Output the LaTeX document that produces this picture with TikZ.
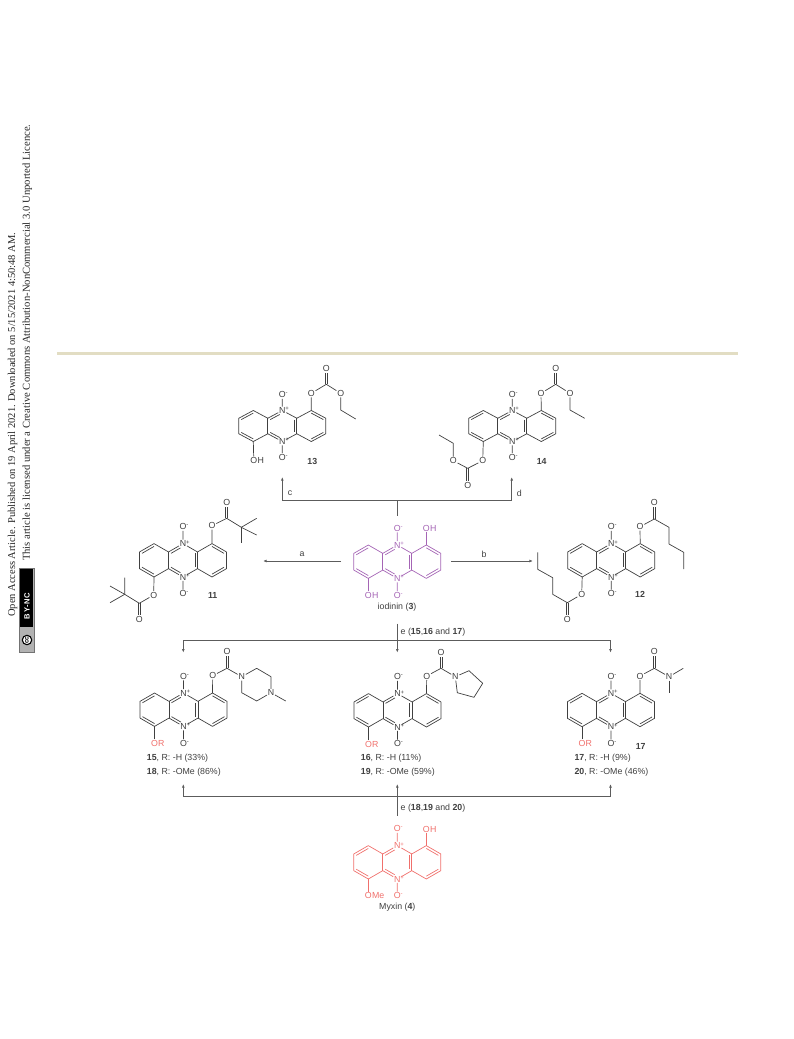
\documentclass[tikz,border=0pt]{standalone}
\usepackage{fontspec}
\setmainfont{Liberation Sans}
\newfontfamily\headfont{Liberation Serif}
\usetikzlibrary{arrows.meta,calc}

\definecolor{bondgray}{HTML}{404040}
\definecolor{arrowgray}{HTML}{5C5C5C}
\definecolor{iodpurple}{HTML}{A565B5}
\definecolor{myxred}{HTML}{F0706C}
\definecolor{rulebeige}{HTML}{E2DDC3}

\newcommand{\Nplus}{N\smash{\rlap{\raisebox{2.6pt}{\fontsize{6}{6}\selectfont +}}}}
\newcommand{\Ominus}{O\smash{\rlap{\raisebox{3pt}{\fontsize{6}{6}\selectfont -}}}}

\tikzset{
	bond/.style={line width=.7pt,line join=round},
	atom/.style={inner sep=.7pt,font=\fontsize{8.8}{9}\selectfont},
	tail/.style={inner sep=0pt,anchor=west,xshift=-.8pt,font=\fontsize{8.8}{9}\selectfont},
	lab/.style={inner sep=0pt,font=\fontsize{8.8}{10}\selectfont,text=bondgray},
	cpd/.style={inner sep=0pt,font=\fontsize{8.8}{10}\selectfont\bfseries,text=bondgray},
	reag/.style={inner sep=0pt,font=\fontsize{8.8}{10}\selectfont,text=bondgray},
	flow/.style={line width=.85pt,draw=arrowgray},
	flowto/.style={flow,-{Latex[length=3.6pt,width=2.8pt]}},
}

% upright C=O: 1 carbon, 2 oxygen
\newcommand{\carbonyl}[2]{%
	\draw[bond,shorten >=4.6pt] ([xshift=-1.1pt]#1.center) -- ([xshift=-1.1pt]#2.center);
	\draw[bond,shorten >=4.6pt] ([xshift=1.1pt]#1.center) -- ([xshift=1.1pt]#2.center);
}

% core: 1 name, 2 x, 3 y, 4 yscale, 5 colour
\newcommand{\phenazine}[5]{%
	\begin{scope}[shift={(#2,#3)},yscale=#4,color=#5]
		\foreach \n/\px/\py in {Ra/29/-16.7,Rb/43.5/-8.35,Rc/43.5/8.35,Rd/29/16.7,
			Ja/14.5/-8.35,Jb/14.5/8.35,Ka/-14.5/-8.35,Kb/-14.5/8.35,
			La/-29/-16.7,Lb/-43.5/-8.35,Lc/-43.5/8.35,Ld/-29/16.7,
			Cr/29/0,Cm/0/0,Cl/-29/0}
			\coordinate (#1\n) at (\px,\py);
		\node[atom] (#1Na) at (0,-16.7) {\Nplus};
		\node[atom] (#1Nb) at (0,16.7) {\Nplus};
		\node[atom] (#1Oa) at (0,-33.4) {\Ominus};
		\node[atom] (#1Ob) at (0,33.4) {\Ominus};
		\draw[bond] (#1Oa) -- (#1Na) -- (#1Ja) -- (#1Ra) -- (#1Rb) -- (#1Rc) -- (#1Rd) -- (#1Jb) -- (#1Nb) -- (#1Ob);
		\draw[bond] (#1Na) -- (#1Ka) -- (#1La) -- (#1Lb) -- (#1Lc) -- (#1Ld) -- (#1Kb) -- (#1Nb);
		\draw[bond] (#1Ja) -- (#1Jb);
		\draw[bond] (#1Ka) -- (#1Kb);
		\foreach \u/\v/\c in {Ra/Rb/Cr,Rc/Rd/Cr,Ja/Jb/Cm,La/Lb/Cl,Lc/Ld/Cl}
			\draw[bond] ($(#1\u)!.17!(#1\c)$) -- ($(#1\v)!.17!(#1\c)$);
		\draw[bond,shorten >=3pt] ($(#1Ka)!.17!(#1Cm)$) -- ($(#1Na)!.17!(#1Cm)$);
		\draw[bond,shorten >=3pt] ($(#1Kb)!.17!(#1Cm)$) -- ($(#1Nb)!.17!(#1Cm)$);
	\end{scope}
}

\begin{document}
\begin{tikzpicture}[x=1pt,y=-1pt]
	\useasboundingbox (0,0) rectangle (793,1039);

	% journal strip
	\fill[rulebeige] (57,351.6) rectangle (738,354.6);
	\node[rotate=90,anchor=west,inner sep=0pt,font=\headfont\fontsize{10.5}{11}\selectfont,text=black!85] (line1) at (12.6,617) {Open Access Article. Published on 19 April 2021. Downloaded on 5/15/2021 4:50:48 AM.};
	\node[rotate=90,anchor=west,inner sep=0pt,font=\headfont\fontsize{10.62}{11}\selectfont,text=black!85] (line2) at (27.2,561) {This article is licensed under a Creative Commons Attribution-NonCommercial 3.0 Unported Licence.};
	\filldraw[draw=black!55,fill=black!30,line width=.9pt] (19.6,568) rectangle (34.2,652.5);
	\fill[black] (20.4,568.8) rectangle (33.4,627);
	\node[rotate=90,inner sep=0pt,font=\fontsize{7.6}{8}\selectfont\bfseries,text=white] (badge) at (27,606) {B\kern.8pt Y\kern.4pt -\kern.4pt N\kern.8pt C};
	\node[circle,draw=black,fill=white,line width=1.1pt,inner sep=.5pt,font=\fontsize{6.5}{7}\selectfont\bfseries,rotate=90] (cc) at (27,640) {cc};

	% iodinin
	\phenazine{I}{397.3}{561.7}{1}{iodpurple}
	\begin{scope}[color=iodpurple]
		\node[atom] (IO1) at (426.3,528.3) {O};
		\node[tail] at (IO1.east) {H};
		\node[atom] (IO2) at (368.3,595) {O};
		\node[tail] at (IO2.east) {H};
		\draw[bond] (IRa) -- (IO1);
		\draw[bond] (ILd) -- (IO2);
	\end{scope}
	\node[lab] (Ilab) at (397,607.7) {iodinin (\textbf{3})};

	% myxin
	\phenazine{M}{397.3}{862.3}{1}{myxred}
	\begin{scope}[color=myxred]
		\node[atom] (MO1) at (426.3,829) {O};
		\node[tail] at (MO1.east) {H};
		\node[atom] (MO2) at (368.3,895.7) {O};
		\node[tail] at (MO2.east) {Me};
		\draw[bond] (MRa) -- (MO1);
		\draw[bond] (MLd) -- (MO2);
	\end{scope}
	\node[lab] (Mlab) at (397.3,907.6) {Myxin (\textbf{4})};

	% 13
	\phenazine{A}{282.3}{426}{.93}{bondgray}
	\begin{scope}[color=bondgray]
		\node[atom] (AOh) at (253.8,460.5) {O};
		\node[tail] at (AOh.east) {H};
		\node[atom] (AO1) at (311.3,393.3) {O};
		\node[atom] (AO2) at (326.3,368.3) {O};
		\node[atom] (AO3) at (340.7,393.3) {O};
		\foreach \n/\px/\py in {Ac/326.3/384.3,Ae/340.7/410,Am/355.7/419}
			\coordinate (\n) at (\px,\py);
		\draw[bond] (ALd) -- (AOh);
		\draw[bond] (ARa) -- (AO1) -- (Ac) -- (AO3) -- (Ae) -- (Am);
		\carbonyl{Ac}{AO2}
	\end{scope}
	\node[cpd] (Alab) at (312.3,461.7) {13};

	% 14
	\phenazine{B}{512.3}{426}{.93}{bondgray}
	\begin{scope}[color=bondgray]
		\node[atom] (BO1) at (541,393.3) {O};
		\node[atom] (BO2) at (555.7,368.3) {O};
		\node[atom] (BO3) at (570,393.3) {O};
		\node[atom] (BO4) at (482.7,460.7) {O};
		\node[atom] (BO5) at (467.7,485.7) {O};
		\node[atom] (BO6) at (453.3,460.7) {O};
		\foreach \n/\px/\py in {Bc/555.7/384.3,Be/570/410,Bm/584.7/418.3,Bd/467.7/468.3,Bf/453.3/443.3,Bn/439/435}
			\coordinate (\n) at (\px,\py);
		\draw[bond] (BRa) -- (BO1) -- (Bc) -- (BO3) -- (Be) -- (Bm);
		\draw[bond] (BLd) -- (BO4) -- (Bd) -- (BO6) -- (Bf) -- (Bn);
		\carbonyl{Bc}{BO2}
		\carbonyl{Bd}{BO5}
	\end{scope}
	\node[cpd] (Blab) at (541.7,461.7) {14};

	% 11
	\phenazine{C}{183}{560.3}{1}{bondgray}
	\begin{scope}[color=bondgray]
		\node[atom] (CO1) at (212,525.7) {O};
		\node[atom] (CO2) at (226.7,502.3) {O};
		\node[atom] (CO3) at (153.7,595) {O};
		\node[atom] (CO4) at (139.3,619.3) {O};
		\foreach \n/\px/\py in {Cc/226.7/518.3,Cq/241.3/527.3,Ch/256.7/518.3,Ci/256.7/535,Cj/241.3/543.3,
			Cd/139.3/603.3,Cs/124.7/594.3,Ck/124.7/577.7,Ct/110/586,Cn/110/602.7}
			\coordinate (\n) at (\px,\py);
		\draw[bond] (CRa) -- (CO1) -- (Cc) -- (Cq) -- (Ch);
		\draw[bond] (Cq) -- (Ci);
		\draw[bond] (Cq) -- (Cj);
		\draw[bond] (CLd) -- (CO3) -- (Cd) -- (Cs) -- (Ck);
		\draw[bond] (Cs) -- (Ct);
		\draw[bond] (Cs) -- (Cn);
		\carbonyl{Cc}{CO2}
		\carbonyl{Cd}{CO4}
	\end{scope}
	\node[cpd] (Clab) at (212.7,595) {11};

	% 12
	\phenazine{D}{611.2}{560.3}{1}{bondgray}
	\begin{scope}[color=bondgray]
		\node[atom] (DO1) at (640,526.7) {O};
		\node[atom] (DO2) at (654.3,502.3) {O};
		\node[atom] (DO3) at (581.7,594.3) {O};
		\node[atom] (DO4) at (567.3,619.3) {O};
		\foreach \n/\px/\py in {Dc/654.3/519,Dp/669/527.3,Dq/669/544,Dr/683.7/552.3,Ds/683.7/569,
			Dd/567.3/602.7,Dt/552.7/594.3,Du/552.7/577.7,Dv/537.7/569.3,Dw/537.7/552.3}
			\coordinate (\n) at (\px,\py);
		\draw[bond] (DRa) -- (DO1) -- (Dc) -- (Dp) -- (Dq) -- (Dr) -- (Ds);
		\draw[bond] (DLd) -- (DO3) -- (Dd) -- (Dt) -- (Du) -- (Dv) -- (Dw);
		\carbonyl{Dc}{DO2}
		\carbonyl{Dd}{DO4}
	\end{scope}
	\node[cpd] (Dlab) at (640,594.3) {12};

	% 15 / 18
	\phenazine{E}{183.5}{709.7}{1}{bondgray}
	\begin{scope}[color=bondgray]
		\node[atom] (EO1) at (212.7,675.7) {O};
		\node[atom] (EO2) at (227,651) {O};
		\node[atom] (EN1) at (241.7,676.7) {N};
		\node[atom] (EN2) at (271,692.7) {N};
		\foreach \n/\px/\py in {Ec/227/668.3,Ef/256.7/668.3,Eg/271/676.7,Eh/256.7/701,Ei/241.7/692.7,Em/285.7/701}
			\coordinate (\n) at (\px,\py);
		\draw[bond] (ERa) -- (EO1) -- (Ec) -- (EN1) -- (Ef) -- (Eg) -- (EN2) -- (Eh) -- (Ei) -- (EN1);
		\draw[bond] (EN2) -- (Em);
		\carbonyl{Ec}{EO2}
		\node[atom,text=myxred] (EOr) at (154.5,743.3) {O};
		\node[tail,text=myxred] at (EOr.east) {R};
		\draw[bond] (ELd) -- (EOr);
	\end{scope}
	\node[lab,anchor=west] (Elab) at (146.7,758.3) {\textbf{15}, R: -H (33\%)};
	\node[lab,anchor=west] (Elabb) at (146.7,772.3) {\textbf{18}, R: -OMe (86\%)};

	% 16 / 19
	\phenazine{F}{397.5}{710.3}{1}{bondgray}
	\begin{scope}[color=bondgray]
		\node[atom] (FO1) at (426.7,676) {O};
		\node[atom] (FO2) at (441,652.3) {O};
		\node[atom] (FN1) at (455.3,676.7) {N};
		\foreach \n/\px/\py in {Fc/441/668.3,Ff/469/670.7,Fg/482.7/683.3,Fh/474/697.3,Fi/457.3/692.7}
			\coordinate (\n) at (\px,\py);
		\draw[bond] (FRa) -- (FO1) -- (Fc) -- (FN1) -- (Ff) -- (Fg) -- (Fh) -- (Fi) -- (FN1);
		\carbonyl{Fc}{FO2}
		\node[atom,text=myxred] (FOr) at (368.5,744) {O};
		\node[tail,text=myxred] at (FOr.east) {R};
		\draw[bond] (FLd) -- (FOr);
	\end{scope}
	\node[lab,anchor=west] (Flab) at (360.7,758.3) {\textbf{16}, R: -H (11\%)};
	\node[lab,anchor=west] (Flabb) at (360.7,772.3) {\textbf{19}, R: -OMe (59\%)};

	% 17 / 20
	\phenazine{G}{611}{710}{1}{bondgray}
	\begin{scope}[color=bondgray]
		\node[atom] (GO1) at (640,676) {O};
		\node[atom] (GO2) at (654.3,651) {O};
		\node[atom] (GN1) at (669,676.7) {N};
		\foreach \n/\px/\py in {Gc/654.3/668.3,Gm/683.3/668.3,Gn/669/693.3}
			\coordinate (\n) at (\px,\py);
		\draw[bond] (GRa) -- (GO1) -- (Gc) -- (GN1) -- (Gm);
		\draw[bond] (GN1) -- (Gn);
		\carbonyl{Gc}{GO2}
		\node[atom,text=myxred] (GOr) at (582,743.3) {O};
		\node[tail,text=myxred] at (GOr.east) {R};
		\draw[bond] (GLd) -- (GOr);
	\end{scope}
	\node[cpd] (Glab) at (640.7,746.7) {17};
	\node[lab,anchor=west] (Glabb) at (574.3,758.3) {\textbf{17}, R: -H (9\%)};
	\node[lab,anchor=west] (Glabc) at (574.3,772.3) {\textbf{20}, R: -OMe (46\%)};

	% arrows
	\foreach \n/\px/\py in {ta/397.3/515.7,tb/397.3/500,tc/282.3/500,td/511.7/500,te/282.3/477,tf/511.7/477,
		aa/341/561,ab/263/561,ba/451/561,bb/533/561,
		ea/397.3/623.5,eb/397.3/640,ec/183.3/640,ed/610.5/640,ee/397.3/652.7,ef/183.3/652.7,eg/610.5/652.7,
		fa/397.3/815.5,fb/397.3/796.7,fc/183.3/796.7,fd/610.5/796.7,fe/397.3/784,ff/183.3/784,fg/610.5/784}
		\coordinate (\n) at (\px,\py);
	\draw[flow] (ta) -- (tb);
	\draw[flowto] (td) -- (tc) -- (te);
	\draw[flowto] (tc) -- (td) -- (tf);
	\draw[flowto] (aa) -- (ab);
	\draw[flowto] (ba) -- (bb);
	\draw[flowto] (ea) -- (ee);
	\draw[flowto] (ed) -- (ec) -- (ef);
	\draw[flowto] (ec) -- (ed) -- (eg);
	\draw[flowto] (fa) -- (fe);
	\draw[flowto] (fd) -- (fc) -- (ff);
	\draw[flowto] (fc) -- (fd) -- (fg);

	\node[reag] (rc) at (290,493) {c};
	\node[reag] (rd) at (519.3,493) {d};
	\node[reag] (ra) at (302,554) {a};
	\node[reag] (rb) at (484,554) {b};
	\node[reag,anchor=west] (re) at (400.5,632.5) {e (\textbf{15},\textbf{16} and \textbf{17})};
	\node[reag,anchor=west] (rf) at (400.5,808) {e (\textbf{18},\textbf{19} and \textbf{20})};
\end{tikzpicture}
\end{document}
